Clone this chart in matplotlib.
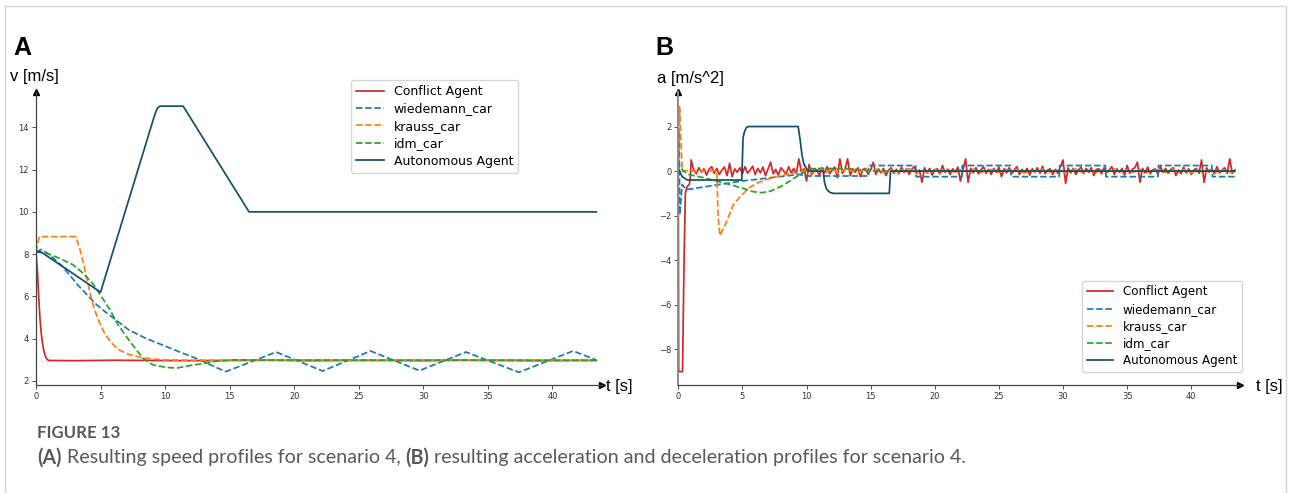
import numpy as np
import matplotlib
matplotlib.use("Agg")
import matplotlib.pyplot as plt
from matplotlib.lines import Line2D

# ---------------- data: panel A (speed) ----------------
conf_v_t = [0, 0.1, 0.2, 0.3, 0.4, 0.5, 0.6, 0.7, 0.8, 0.9, 1.0, 3, 6, 9, 12, 15, 18, 21, 24, 27, 30, 33, 36, 39, 42, 43.4]
conf_v = [8.1, 7.3, 6.1, 5.0, 4.3, 3.8, 3.45, 3.22, 3.08, 3.0, 2.97, 2.96, 2.98, 2.97, 2.96, 2.97, 2.98, 2.96, 2.97, 2.97, 2.96, 2.98, 2.97, 2.96, 2.97, 2.97]

wied_v_t = [0, 0.4, 1.0, 2.0, 3.3, 4.6, 5.2, 6.2, 7.2, 8.5, 9.8, 11.1, 12.4, 14.7, 18.6, 22.2, 25.9, 29.7, 33.3, 37.4, 41.6, 43.4]
wied_v = [8.1, 8.22, 8.0, 7.45, 6.5, 5.66, 5.35, 4.88, 4.41, 4.02, 3.7, 3.38, 3.07, 2.44, 3.37, 2.47, 3.42, 2.49, 3.37, 2.41, 3.42, 2.99]

krauss_v_t = [0, 0.25, 3.07, 3.38, 3.64, 3.9, 4.16, 4.42, 4.67, 4.93, 5.3, 5.84, 6.48, 7.26, 8.29, 9.8, 12, 43.4]
krauss_v = [8.1, 8.83, 8.83, 8.29, 7.66, 6.95, 6.24, 5.61, 5.14, 4.74, 4.27, 3.8, 3.45, 3.24, 3.09, 3.0, 2.98, 2.98]

idm_v_t = [0, 0.8, 1.83, 2.86, 3.64, 4.41, 5.06, 5.7, 6.35, 7.0, 7.77, 8.29, 9.06, 10.1, 10.9, 12.1, 12.7, 14.0, 15.3, 17, 43.4]
idm_v = [8.1, 8.05, 7.8, 7.5, 7.1, 6.6, 6.0, 5.4, 4.66, 4.1, 3.47, 3.07, 2.76, 2.64, 2.61, 2.75, 2.8, 2.94, 3.0, 2.99, 2.98]

auto_v_t = [0, 0.4, 5.0, 9.2, 9.4, 9.6, 11.4, 16.5, 43.4]
auto_v = [8.1, 8.1, 6.2, 14.6, 14.9, 15.0, 15.0, 10.0, 10.0]

# ---------------- data: panel B (acceleration) ----------------
conf_a_t0 = [0, 0.03, 0.33, 0.45, 0.55, 0.68, 0.86, 0.95, 1.0]
conf_a0 = [0, -9.0, -9.0, -4.0, -1.0, -0.7, -0.6, -0.2, 0.5]
conf_a_noise = [
    0.05, -0.12, 0.15, -0.05, 0.1, -0.18, 0.08, 0.2, -0.1, 0.12,
    -0.15, 0.05, 0.18, -0.2, 0.35, -0.25, 0.1, -0.05, 0.15, -0.12,
    0.2, -0.1, 0.05, 0.22, -0.15, 0.12, -0.08, 0.18, -0.2, 0.1,
    0.4, -0.12, 0.08, -0.18, 0.15, 0.02, -0.15, 0.2, -0.08, 0.12,
    -0.1, 0.55, -0.05, 0.1, -0.45, 0.3, -0.15, 0.12, 0.05, -0.2,
    0.15, -0.08, 0.2, -0.12, 0.05, 0.18, -0.3, 0.55, -0.1, 0.08,
    0.55, -0.2, 0.1, -0.05, 0.15, -0.25, 0.08, 0.12, -0.15, 0.05,
    0.4, -0.15, 0.1, -0.08, 0.12, -0.2, 0.05, 0.15, -0.1, 0.08,
    -0.12, 0.18, -0.05, 0.1, -0.15, 0.08, 0.2, -0.1, 0.05, -0.5,
    0.15, -0.08, 0.12, -0.18, 0.05, 0.1, -0.12, 0.25, -0.05, 0.08,
    -0.15, 0.1, -0.05, 0.18, -0.45, 0.05, 0.55, -0.5, 0.12, -0.08,
    0.15, -0.12, 0.05, 0.2, -0.1, 0.08, -0.15, 0.12, -0.05, 0.18,
    -0.25, 0.1, -0.08, 0.15, -0.12, 0.05, 0.2, -0.15, 0.08, -0.05,
    0.12, -0.18, 0.1, -0.05, 0.15, -0.1, 0.22, -0.12, 0.05, 0.1,
    -0.15, 0.08, -0.1, 0.2, 0.5, -0.55, 0.15, -0.08, 0.12, -0.15,
    0.05, 0.18, -0.1, 0.12, -0.05, 0.15, -0.2, 0.08, 0.1, -0.12,
    0.15, -0.08, 0.05, 0.2, -0.15, 0.1, -0.05, 0.12, -0.18, 0.25,
    -0.1, 0.08, 0.15, 0.4, -0.5, 0.12, -0.08, 0.18, -0.12, 0.05,
    0.1, -0.15, 0.2, -0.05, 0.12, -0.1, 0.08, 0.15, -0.2, 0.05,
    -0.12, 0.18, -0.08, 0.1, -0.15, 0.05, 0.12, -0.1, 0.5, -0.5,
    0.15, -0.05, 0.1, -0.12, 0.2, -0.08, 0.05, 0.15, -0.1, 0.55,
    -0.1, 0.05,
]
conf_noise_t = np.round(1.2 + 0.2 * np.arange(len(conf_a_noise)), 2)

wied_a_t = [0, 0.05, 0.12, 0.3, 0.6, 1.0, 4.9, 9.4, 10.0, 14.8, 14.85, 18.5, 18.55, 22.1, 22.15,
            25.9, 25.95, 29.7, 29.75, 33.3, 33.35, 37.4, 37.45, 41.6, 41.65, 43.4]
wied_a = [0, 1.9, -1.95, -0.6, -0.82, -0.8, -0.45, -0.15, -0.22, -0.22, 0.25, 0.25, -0.25, -0.25, 0.25,
          0.25, -0.25, -0.25, 0.25, 0.25, -0.25, -0.25, 0.25, 0.25, -0.25, -0.25]

krauss_a_t0 = [0, 0.1, 0.2, 0.3, 0.8, 1.5, 2.2, 3.0, 3.1, 3.25, 3.7, 4.3, 4.9, 5.6, 6.2, 6.9, 7.5, 8.2, 8.8, 9.5]
krauss_a0 = [0, 2.9, 1.4, 0.0, 0.03, -0.02, 0.03, 0.0, -2.0, -2.9, -2.35, -1.5, -1.1, -0.72, -0.52, -0.38, -0.27, -0.18, -0.1, -0.04]
krauss_a_noise = [
    0.05, -0.08, 0.12, -0.05, 0.1, -0.12, 0.08, 0.03, -0.1, 0.12,
    -0.06, 0.09, -0.04, 0.07, -0.1, 0.05, 0.11, -0.07, 0.04, -0.09,
    0.08, -0.05, 0.1, -0.08, 0.06, -0.03, 0.09, -0.1, 0.05, 0.07,
    -0.06, 0.1, -0.04, 0.08, -0.09, 0.05, -0.07, 0.11, -0.05, 0.06,
    -0.08, 0.04, 0.09, -0.06, 0.07, -0.1, 0.05, -0.04, 0.1, -0.07,
    0.06, -0.05, 0.08, -0.09, 0.04, 0.07, -0.06, 0.1, -0.05, 0.08,
    -0.07, 0.05, -0.1, 0.09, -0.04, 0.06, -0.08,
]
krauss_noise_t = np.round(10.0 + 0.5 * np.arange(len(krauss_a_noise)), 2)

idm_a_t = [0, 0.1, 0.4, 0.8, 2.0, 3.0, 4.0, 4.9, 5.8, 6.5, 7.2, 8.1, 8.7, 9.35, 10.0, 10.3, 11.5, 13.5, 14.5, 15.5, 43.4]
idm_a = [0, 0.25, 0.0, -0.15, -0.3, -0.45, -0.6, -0.75, -0.92, -0.97, -0.9, -0.66, -0.45, -0.2, 0.0, 0.1, 0.12, 0.1, 0.04, 0.0, 0.0]

auto_a_t = [0, 0.1, 0.3, 0.7, 4.95, 5.05, 5.15, 5.3, 5.45, 9.35, 9.5, 9.65, 9.8, 10.0, 10.2, 11.3, 11.4, 11.55, 11.8, 12.1, 16.45, 16.55, 43.4]
auto_a = [0, 0.0, -0.25, -0.4, -0.4, 1.5, 1.75, 1.95, 2.0, 2.0, 1.4, 0.7, 0.3, 0.1, 0.0, 0.0, -0.5, -0.8, -0.95, -1.0, -1.0, 0.0, 0.0]

labels = ["Conflict Agent", "wiedemann_car", "krauss_car", "idm_car", "Autonomous Agent"]
colors = ["#d62728", "#1f77b4", "#ff7f0e", "#2ca02c", "#14506a"]
styles = ["-", "--", "--", "--", "-"]

xticks = [0, 5, 10, 15, 20, 25, 30, 35, 40]
yticks_a = [2, 4, 6, 8, 10, 12, 14]
yticks_b = [-8, -6, -4, -2, 0, 2]

caption_title = "FIGURE 13"
caption_pieces = [("(A)", "bold"), (" Resulting speed profiles for scenario 4, ", "normal"), ("(B)", "bold"),
                  (" resulting acceleration and deceleration profiles for scenario 4.", "normal")]

# ---------------- figure ----------------
W, H = 1290, 493
fig = plt.figure(figsize=(W / 100, H / 100), dpi=100)
fig.patch.set_facecolor("white")

def fx(px):
    return px / W

def fy(py):
    return 1 - py / H

axA = fig.add_axes([fx(36), fy(385), fx(601.5) - fx(36), fy(92) - fy(385)])
axB = fig.add_axes([fx(678.3), fy(385), fx(1240) - fx(678.3), fy(92) - fy(385)])

lw = 1.25
a_series = [
    (conf_v_t, conf_v), (wied_v_t, wied_v), (krauss_v_t, krauss_v), (idm_v_t, idm_v), (auto_v_t, auto_v)
]
for (t, v), lab, c, ls in zip(a_series, labels, colors, styles):
    axA.plot(t, v, ls, color=c, lw=lw, label=lab)

conf_a_t = list(conf_a_t0) + list(conf_noise_t)
conf_a = list(conf_a0) + list(conf_a_noise)
krauss_a_t = list(krauss_a_t0) + list(krauss_noise_t) + [43.4]
krauss_a = list(krauss_a0) + list(krauss_a_noise) + [0.0]
b_series = [
    (conf_a_t, conf_a), (wied_a_t, wied_a), (krauss_a_t, krauss_a), (idm_a_t, idm_a), (auto_a_t, auto_a)
]
for (t, a), lab, c, ls in zip(b_series, labels, colors, styles):
    axB.plot(t, a, ls, color=c, lw=lw, label=lab)

axA.set_xlim(0, 43.8)
axA.set_ylim(1.81, 15.67)
axB.set_xlim(0, 43.8)
axB.set_ylim(-9.6, 3.55)
axA.set_yticks(yticks_a)
axB.set_yticks(yticks_b)

for ax, spc, splw in [(axA, "#444444", 0.9), (axB, "#8a8a8a", 1.4)]:
    ax.set_xticks(xticks)
    ax.spines["top"].set_visible(False)
    ax.spines["right"].set_visible(False)
    ax.spines["left"].set_color(spc)
    ax.spines["left"].set_linewidth(splw)
    ax.spines["bottom"].set_color("#444444")
    ax.spines["bottom"].set_linewidth(0.9)
    ax.tick_params(labelsize=6, length=3, width=0.6, colors="#333333", pad=2)
    ax.patch.set_alpha(0)
    ax.plot(1, 0, marker=">", color="k", ms=4, transform=ax.transAxes, clip_on=False)
    ax.plot(0, 1, marker="^", color="k", ms=4, transform=ax.transAxes, clip_on=False)

axA.legend(loc="upper left", bbox_to_anchor=(fx(351), fy(80)), bbox_transform=fig.transFigure,
           borderaxespad=0, fontsize=9, labelspacing=0.35, handlelength=2.2)
axB.legend(loc="lower right", bbox_to_anchor=(fx(1242), fy(372)), bbox_transform=fig.transFigure,
           borderaxespad=0, fontsize=8.6, labelspacing=0.35, handlelength=2.2)

lab_font = "Liberation Sans"
fig.text(fx(13), fy(48), "A", fontsize=18, fontweight="bold", family=lab_font, va="center", ha="left")
fig.text(fx(655), fy(48), "B", fontsize=18, fontweight="bold", family=lab_font, va="center", ha="left")
fig.text(fx(10), fy(77), "v [m/s]", fontsize=12, family=lab_font, va="center", ha="left")
fig.text(fx(657), fy(79), "a [m/s^2]", fontsize=12, family=lab_font, va="center", ha="left")
fig.text(fx(606), fy(387), "t [s]", fontsize=12, family=lab_font, va="center", ha="left")
fig.text(fx(1256), fy(387), "t [s]", fontsize=12, family=lab_font, va="center", ha="left")

# frame
frame_c = "#d6d6d6"
fig.add_artist(Line2D([fx(4.5), fx(4.5)], [0, fy(5.5)], transform=fig.transFigure, color=frame_c, lw=1))
fig.add_artist(Line2D([fx(1285.5), fx(1285.5)], [0, fy(5.5)], transform=fig.transFigure, color=frame_c, lw=1))
fig.add_artist(Line2D([fx(4.5), fx(1285.5)], [fy(5.5), fy(5.5)], transform=fig.transFigure, color=frame_c, lw=1))

# caption (font size fitted so the caption line spans the same width as in the reference)
cap_font = "Lato"
cap_color = "#58595b"
renderer = fig.canvas.get_renderer()

def draw_line(pieces, x0, y, size):
    arts = []
    xpos = x0
    for txt, wt in pieces:
        t = fig.text(fx(xpos), fy(y), txt, fontsize=size, fontweight=wt, family=cap_font,
                     color=cap_color, va="center", ha="left")
        xpos += t.get_window_extent(renderer=renderer).width
        arts.append(t)
    return arts, xpos - x0

arts, width = draw_line(caption_pieces, 37, 458, 12)
for a in arts:
    a.remove()
size = 12 * 928 / width
draw_line(caption_pieces, 37, 458, size)

tt = fig.text(fx(37), fy(433), caption_title, fontsize=12, fontweight="bold", family=cap_font,
              color=cap_color, va="center", ha="left")
tw = tt.get_window_extent(renderer=renderer).width
tt.set_fontsize(12 * 83 / tw)

fig.savefig("out.png", dpi=100, facecolor="white")
